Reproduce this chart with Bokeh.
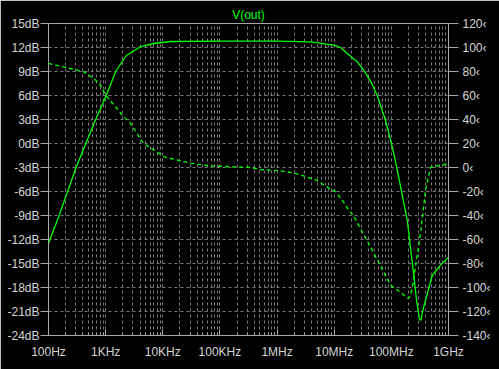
from bokeh.plotting import figure
from bokeh.models import Range1d, LinearAxis, FixedTicker
from bokeh.embed import file_html
from bokeh.resources import INLINE

# ---- data ----
mag_freq = [100, 150, 300, 450, 660, 1000, 1500, 2300, 4000, 7000, 13600,
            100e3, 1e6, 3.85e6, 10e6, 12.9e6, 16.9e6, 24.6e6, 32.6e6, 43.2e6,
            56.5e6, 79e6, 103.5e6, 126.8e6, 190e6, 216e6, 241e6, 275e6,
            311e6, 330e6, 351e6, 396e6, 519e6, 724e6, 1e9]
mag_db = [-12.5, -9.2, -3.1, 0.0, 2.9, 5.8, 9.0, 11.0, 12.07, 12.5, 12.75,
          12.8, 12.8, 12.7, 12.3, 12.0, 11.25, 10.3, 9.2, 7.8,
          6.0, 2.9, -0.4, -3.3, -9.6, -13.0, -15.8, -19.5,
          -22.0, -22.1, -21.0, -19.6, -16.5, -15.2, -14.2]

ph_freq = [100, 243, 415, 620, 813, 1000, 1490, 2050, 2700, 4600, 11e3,
           30.5e3, 68e3, 343e3, 513e3, 1.15e6, 1.94e6, 2.9e6, 5.1e6, 7.94e6,
           10.5e6, 14.5e6, 17.1e6, 21.7e6, 31.3e6, 43e6, 96.6e6, 150e6,
           192e6, 210e6, 234e6, 275e6, 324e6, 396e6, 484e6, 724e6, 1e9]
ph_deg = [86.7, 82.5, 79.7, 74.2, 68.6, 60.3, 50.6, 42.5, 37, 20, 8.6,
          3.6, 1.3, 0, -1.7, -2.8, -4.5, -7, -11, -17,
          -20, -28.6, -34, -40, -54, -66, -98, -104.5,
          -109, -108, -100, -77, -55, -19, 0, 2, 3]

x_ticks = [100, 1000, 10000, 100000, 1000000, 10000000, 100000000, 1000000000]
x_labels = ["100Hz", "1KHz", "10KHz", "100KHz", "1MHz", "10MHz", "100MHz", "1GHz"]
db_ticks = list(range(15, -25, -3))
db_labels = [f"{v}dB" for v in db_ticks]
ph_ticks = list(range(120, -141, -20))
ph_labels = [f"{v}\u2039" for v in ph_ticks]

title_text = "V(out)"

GREEN = "#00ff00"
LABEL = "#d4d4d4"
AXIS = "#a8a8a8"
GRID = "#7a7a7a"
FONT = "Liberation Sans"

minor = []
for d in x_ticks[:-1]:
    for k in range(2, 10):
        minor.append(d * k)

p = figure(width=499, height=369, x_axis_type="log",
           x_range=Range1d(100, 1e9), y_range=Range1d(-24, 15),
           output_backend="svg", toolbar_location=None,
           background_fill_color="black", border_fill_color="black",
           min_border_left=48, min_border_right=51, min_border_top=23,
           min_border_bottom=34, title=title_text)

p.title.align = "center"
p.title.text_color = GREEN
p.title.text_font = FONT
p.title.text_font_size = "12px"
p.title.text_font_style = "normal"
p.title.standoff = 4
p.title.offset = 0

p.outline_line_color = AXIS

# x axis
xa = p.xaxis[0]
xa.ticker = FixedTicker(ticks=x_ticks, minor_ticks=minor)
xa.major_label_overrides = dict(zip(x_ticks, x_labels))
xa.axis_line_color = AXIS
xa.major_tick_line_color = AXIS
xa.minor_tick_line_color = AXIS
xa.major_tick_in = 6
xa.major_tick_out = 0
xa.minor_tick_in = 3
xa.minor_tick_out = 0
xa.major_label_standoff = 9
xa.major_label_text_color = LABEL
xa.major_label_text_font = FONT
xa.major_label_text_font_size = "12px"

# left axis
ya = p.yaxis[0]
ya.ticker = FixedTicker(ticks=db_ticks, minor_ticks=[])
ya.major_label_overrides = dict(zip(db_ticks, db_labels))
ya.axis_line_color = AXIS
ya.major_tick_line_color = AXIS
ya.major_tick_in = 0
ya.major_tick_out = 8
ya.minor_tick_line_color = None
ya.major_label_standoff = 1
ya.major_label_text_color = LABEL
ya.major_label_text_font = FONT
ya.major_label_text_font_size = "12px"

# right (phase) axis
p.extra_y_ranges = {"phase": Range1d(-140, 120)}
ra = LinearAxis(y_range_name="phase")
ra.ticker = FixedTicker(ticks=ph_ticks, minor_ticks=[])
ra.major_label_overrides = dict(zip(ph_ticks, ph_labels))
ra.axis_line_color = AXIS
ra.major_tick_line_color = AXIS
ra.major_tick_in = 0
ra.major_tick_out = 10
ra.minor_tick_line_color = None
ra.major_label_standoff = 4
ra.major_label_text_color = LABEL
ra.major_label_text_font = FONT
ra.major_label_text_font_size = "12px"
p.add_layout(ra, "right")

# grids
for g in (p.xgrid[0], p.ygrid[0]):
    g.grid_line_color = GRID
    g.grid_line_dash = "3 3"
    g.grid_line_width = 1
p.xgrid[0].minor_grid_line_color = GRID
p.xgrid[0].minor_grid_line_dash = "3 3"

# curves
p.line(mag_freq, mag_db, line_color=GREEN, line_width=1.3)
p.line(ph_freq, ph_deg, y_range_name="phase", line_color=GREEN,
       line_width=1.3, line_dash="4 3")

open("out.html", "w").write(file_html(p, INLINE))
